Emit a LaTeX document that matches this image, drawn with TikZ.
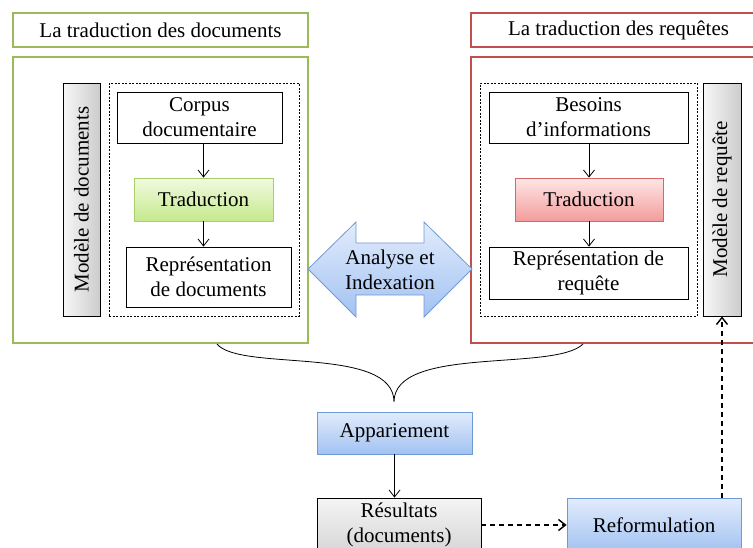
\documentclass[tikz,border=0pt]{standalone}
\usepackage{fontspec}
\setmainfont{Liberation Serif}
\usetikzlibrary{arrows.meta}

\definecolor{vertcadre}{HTML}{9BBB59}
\definecolor{rougecadre}{HTML}{C0504D}
\definecolor{bleutrait}{HTML}{6F9AD6}
\definecolor{bleuhaut}{HTML}{E2ECFC}
\definecolor{bleubas}{HTML}{A2C2F2}
\definecolor{verthaut}{HTML}{F1FADF}
\definecolor{vertbas}{HTML}{C5E98C}
\definecolor{verttrait}{HTML}{A9CF6B}
\definecolor{rougehaut}{HTML}{FFE6E6}
\definecolor{rougebas}{HTML}{F39C9C}
\definecolor{rougetrait}{HTML}{D96565}

\begin{document}
\begin{tikzpicture}[
    x=1pt, y=-1pt,
    >={Straight Barb[length=7pt,width=11pt]},
    thick,
    font=\fontsize{21}{25}\selectfont,
    box/.style={
        rectangle,
        draw,
        align=center,
        inner sep=0pt
    },
    frame/.style={
        rectangle,
        draw,
        line width=2.5pt,
        inner sep=0pt
    },
    dashbox/.style={
        rectangle,
        draw,
        line width=0.7pt,
        dash pattern=on 2pt off 1.5pt,
        inner sep=0pt
    },
    bar/.style={
        box,
        left color=gray!6,
        right color=gray!40
    },
    vert/.style={box, draw=verttrait, top color=verthaut, bottom color=vertbas},
    rouge/.style={box, draw=rougetrait, top color=rougehaut, bottom color=rougebas},
    bleu/.style={box, draw=bleutrait, top color=bleuhaut, bottom color=bleubas},
    gris/.style={box, top color=gray!8, bottom color=gray!32},
    pointille/.style={line width=1.4pt, dash pattern=on 5pt off 4pt}
]
\useasboundingbox (0,0) rectangle (753,547);
\clip (0,0) rectangle (753,547);

% documents
\node[frame, draw=vertcadre, minimum width=295, minimum height=34] (TITD) at (160.5,30) {La traduction des documents};
\node[frame, draw=vertcadre, minimum width=295, minimum height=286] (DOC) at (160.5,200) {};
\node[dashbox, minimum width=190, minimum height=233] (DASHD) at (204,199.5) {};
\node[bar, minimum width=37, minimum height=233] (BARD) at (81.5,199.5) {\rotatebox{90}{Modèle de documents}};
\node[box, minimum width=165, minimum height=51] (CORPUS) at (199.5,117.5) {Corpus\\documentaire};
\node[vert, minimum width=139, minimum height=43] (TRADD) at (203.5,199.5) {Traduction};
\node[box, minimum width=165, minimum height=60] (REPD) at (208.5,277) {Représentation\\de documents};

\draw[->] (TRADD.north |- CORPUS.south) -- (TRADD.north);
\draw[->] (TRADD.south) -- (TRADD.south |- REPD.north);

% requetes
\node[frame, draw=rougecadre, minimum width=295, minimum height=34] (TITR) at (618.5,30) {La traduction des requêtes};
\node[frame, draw=rougecadre, minimum width=295, minimum height=286] (REQ) at (618.5,200) {};
\node[dashbox, minimum width=217, minimum height=233] (DASHR) at (588.5,199.5) {};
\node[bar, minimum width=38, minimum height=233] (BARR) at (722,199.5) {\rotatebox{90}{Modèle de requête}};
\node[box, minimum width=199, minimum height=51] (BESOINS) at (588.5,117.5) {Besoins\\d’informations};
\node[rouge, minimum width=148, minimum height=43] (TRADR) at (589,199.5) {Traduction};
\node[box, minimum width=199, minimum height=52] (REPR) at (588.5,273) {Représentation de\\requête};

\draw[->] (TRADR.north |- BESOINS.south) -- (TRADR.north);
\draw[->] (TRADR.south) -- (TRADR.south |- REPR.north);

% analyse et indexation
\draw[draw=bleutrait, top color=bleuhaut, bottom color=bleubas]
    (308,269) -- (356,222) -- (356,243) -- (424,243) -- (424,222) -- (472,269)
    -- (424,317) -- (424,295) -- (356,295) -- (356,317) -- cycle;
\node[align=center] (ANALYSE) at (390,270) {Analyse et\\Indexation};

% appariement
\coordinate (BRD) at (217,344);
\coordinate (BRR) at (583,344);
\coordinate (TIP) at (394,402);
\draw (BRD) .. controls (240,372) and (394,345) .. (TIP)
      .. controls (394,345) and (555,372) .. (BRR);

\node[bleu, minimum width=155, minimum height=42] (APP) at (394.5,433) {Appariement};
\node[gris, minimum width=164, minimum height=54] (RES) at (399,525) {Résultats\\(documents)};
\node[bleu, minimum width=174, minimum height=54] (REF) at (654,525) {Reformulation};

\draw[->] (APP.south) -- (APP.south |- RES.north);
\draw[->, pointille] (RES.east) -- (REF.west);
\draw[->, pointille] (REF.north -| BARR.south) -- (BARR.south);

\end{tikzpicture}
\end{document}
